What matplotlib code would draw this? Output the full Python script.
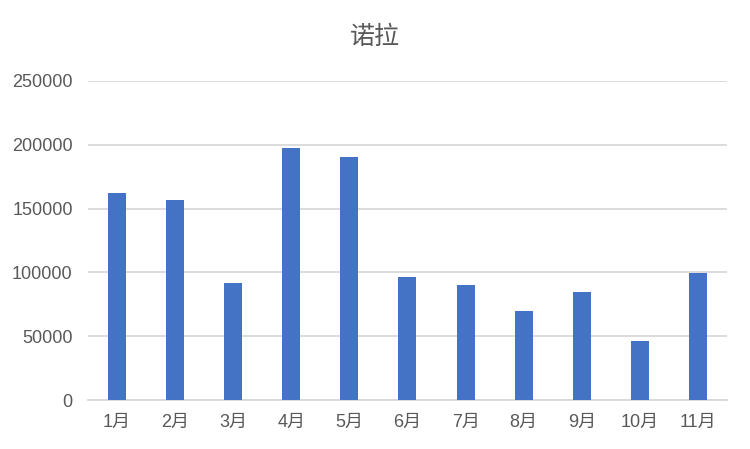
import matplotlib.pyplot as plt

months = ["1月", "2月", "3月", "4月", "5月", "6月", "7月", "8月", "9月", "10月", "11月"]
values = [162500, 157000, 91400, 197700, 190600, 96100, 89800, 69500, 84400, 46100, 99200]
yticks = [0, 50000, 100000, 150000, 200000, 250000]

plt.rcParams["font.family"] = ["Liberation Sans", "Noto Sans CJK SC", "DejaVu Sans"]

fig = plt.figure(figsize=(7.5, 4.49), dpi=100)
ax = fig.add_axes([0.1173, 0.1091, 0.852, 0.7105])

x = range(len(months))
ax.bar(x, values, width=0.31, color="#4472C4", zorder=3)

ax.set_xlim(-0.5, len(months) - 0.5)
ax.set_ylim(0, 250000)
ax.set_yticks(yticks)
ax.set_yticklabels([str(v) for v in yticks])
ax.set_xticks(list(x))
ax.set_xticklabels(months)

ax.grid(axis="y", color="#D9D9D9", linewidth=1.3, zorder=0)
for s in ["top", "left", "right"]:
    ax.spines[s].set_visible(False)
ax.spines["bottom"].set_color("#D9D9D9")
ax.spines["bottom"].set_linewidth(1.3)
ax.tick_params(axis="both", length=0, labelsize=13, labelcolor="#595959")
ax.tick_params(axis="y", pad=11)
ax.tick_params(axis="x", pad=10)

fig.text(0.5, 0.918, "诺拉", ha="center", va="center", fontsize=18, color="#595959")

fig.savefig("out.png", dpi=100)
